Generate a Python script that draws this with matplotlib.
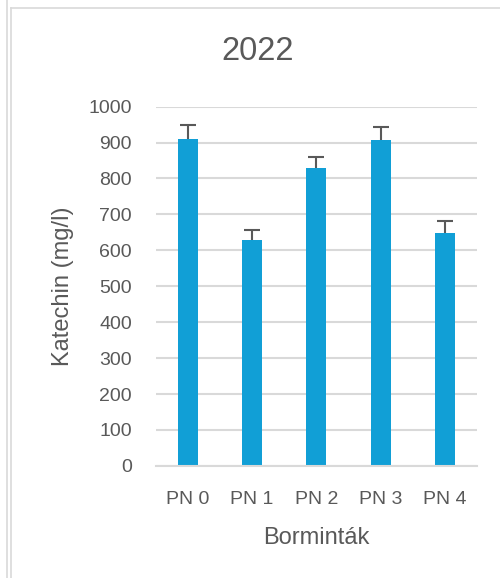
import matplotlib.pyplot as plt
from matplotlib.lines import Line2D
import numpy as np

# data
samples = ["PN 0", "PN 1", "PN 2", "PN 3", "PN 4"]
katechin = [910, 628, 828, 906, 648]
katechin_err = [39, 29, 32, 38, 35]

plt.rcParams['font.family'] = ['Liberation Sans', 'DejaVu Sans']
text_col = "#595959"
grid_col = "#d9d9d9"

fig = plt.figure(figsize=(5, 5.78), dpi=100)
ax = fig.add_axes([0.311, 0.194, 0.643, 0.6215])

x = np.arange(len(samples))
ax.bar(x, katechin, width=0.31, color="#119fd6", zorder=2)
eb = ax.errorbar(x, katechin, yerr=[np.zeros(len(x)), katechin_err], fmt="none",
                 ecolor=text_col, elinewidth=1.5, capsize=6, capthick=1.5, zorder=3)
# plus-only error bars: hide the cap sitting on the bar top
eb[1][0].set_visible(False)

ax.set_xlim(-0.5, len(samples) - 0.5)
ax.set_ylim(0, 1000)
ax.set_yticks(np.arange(0, 1001, 100))
ax.set_xticks(x)
ax.set_xticklabels(samples)
ax.yaxis.grid(True, color=grid_col, linewidth=1.5, zorder=0)
ax.set_axisbelow(True)
for side in ["top", "right", "left"]:
    ax.spines[side].set_visible(False)
ax.spines["bottom"].set_color(grid_col)
ax.spines["bottom"].set_linewidth(1.5)
ax.tick_params(axis="both", length=0, labelsize=14, colors=text_col)
ax.tick_params(axis="x", pad=18)
ax.tick_params(axis="y", pad=17)

fig.text(0.516, 1 - 51 / 578, "2022", fontsize=23.5, color=text_col,
         ha="center", va="center")
ax.set_xlabel("Borminták", fontsize=17, color=text_col, labelpad=14)
ax.set_ylabel("Katechin (mg/l)", fontsize=17, color=text_col, labelpad=10)

# frame lines from the screenshot edge
fig.add_artist(Line2D([7 / 500, 7 / 500], [0, 1], color=grid_col, linewidth=1.2))
fig.add_artist(Line2D([11 / 500, 11 / 500], [0, 1 - 8 / 578], color=grid_col, linewidth=1.2))
fig.add_artist(Line2D([11 / 500, 1], [1 - 8 / 578, 1 - 8 / 578], color=grid_col, linewidth=1.2))

fig.savefig("out.png", dpi=100)
